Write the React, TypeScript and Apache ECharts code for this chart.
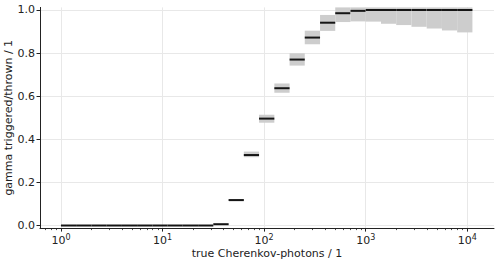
import React, { useEffect, useRef } from "react";
import * as echarts from "echarts";

// bin edges of true Cherenkov-photons
const binEdges = [
  1, 1.41, 2.0, 2.82, 3.98, 5.62, 7.94, 11.2, 15.8, 22.4, 31.6, 44.7, 63.1, 89.1,
  126, 178, 251, 355, 501, 708, 1000, 1413, 1995, 2818, 3981, 5623, 7943, 11220,
];
// ratio triggered/thrown per bin
const ratio = [
  0, 0, 0, 0, 0, 0, 0, 0, 0, 0, 0.006, 0.118, 0.327, 0.496, 0.637, 0.77, 0.872,
  0.941, 0.985, 0.996, 1.0, 1.0, 1.0, 1.0, 1.0, 1.0, 1.0,
];
const ratioLower = [
  0, 0, 0, 0, 0, 0, 0, 0, 0, 0, 0.003, 0.113, 0.317, 0.477, 0.616, 0.742, 0.841,
  0.903, 0.944, 0.947, 0.946, 0.936, 0.93, 0.922, 0.914, 0.905, 0.896,
];
const ratioUpper = [
  0, 0, 0, 0, 0, 0, 0, 0, 0, 0, 0.009, 0.123, 0.343, 0.514, 0.659, 0.799, 0.904,
  0.977, 1.012, 1.012, 1.012, 1.012, 1.012, 1.012, 1.012, 1.012, 1.012,
];

const xMajorTicks = [1, 10, 100, 1000, 10000];
const xMinorTicks = [
  0.7, 0.8, 0.9,
  2, 3, 4, 5, 6, 7, 8, 9,
  20, 30, 40, 50, 60, 70, 80, 90,
  200, 300, 400, 500, 600, 700, 800, 900,
  2000, 3000, 4000, 5000, 6000, 7000, 8000, 9000,
  20000,
];
const yTicks = [0, 0.2, 0.4, 0.6, 0.8, 1.0];

const X_MIN = 0.622;
const X_MAX = 18300;
const Y_MIN = -0.012;
const Y_MAX = 1.012;

export default function App() {
  const ref = useRef<HTMLDivElement>(null);

  useEffect(() => {
    if (!ref.current) return;
    const chart = echarts.init(ref.current, null, { renderer: "svg" });

    const rows = ratio.map((v, i) => [
      binEdges[i],
      binEdges[i + 1],
      v,
      ratioLower[i],
      ratioUpper[i],
    ]);

    const font = "DejaVu Sans";
    const textColor = "#222";
    const axisColor = "#222";

    chart.setOption({
      animation: false,
      backgroundColor: "#fff",
      grid: {
        left: 40,
        right: 10,
        top: 7.4,
        bottom: 30.9,
        containLabel: false,
        outerBoundsMode: "none",
      },
      xAxis: [
        {
          type: "log",
          logBase: 10,
          min: X_MIN,
          max: X_MAX,
          position: "bottom",
          name: "true Cherenkov-photons / 1",
          nameLocation: "middle",
          nameGap: 20,
          nameMoveOverlap: false,
          nameTextStyle: { fontFamily: font, fontSize: 11, color: textColor },
          axisLine: { show: true, onZero: false, lineStyle: { color: axisColor, width: 1 } },
          axisTick: {
            show: true,
            customValues: xMajorTicks,
            length: 3.5,
            lineStyle: { color: axisColor, width: 1 },
          },
          axisLabel: {
            customValues: xMajorTicks,
            margin: 5,
            fontFamily: font,
            fontSize: 11,
            color: textColor,
            lineHeight: 14,
            formatter: (v: number) => `10{sup|${Math.round(Math.log10(v))}}`,
            rich: {
              sup: { fontFamily: font, fontSize: 8, color: textColor, verticalAlign: "top" },
            },
          },
          splitLine: { show: true, lineStyle: { color: "#e8e8e8", width: 1 } },
        },
        {
          type: "log",
          logBase: 10,
          min: X_MIN,
          max: X_MAX,
          position: "bottom",
          axisLine: { show: false, onZero: false },
          axisTick: {
            show: true,
            customValues: xMinorTicks,
            length: 2,
            lineStyle: { color: axisColor, width: 0.8 },
          },
          axisLabel: { show: false },
          splitLine: { show: false },
        },
      ],
      yAxis: {
        type: "value",
        min: Y_MIN,
        max: Y_MAX,
        name: "gamma triggered/thrown / 1",
        nameLocation: "middle",
        nameGap: 26,
        nameMoveOverlap: false,
        nameTextStyle: { fontFamily: font, fontSize: 11, color: textColor },
        axisLine: { show: true, lineStyle: { color: axisColor, width: 1 } },
        axisTick: {
          show: true,
          customValues: yTicks,
          length: 3.5,
          lineStyle: { color: axisColor, width: 1 },
        },
        axisLabel: {
          customValues: yTicks,
          margin: 5,
          fontFamily: font,
          fontSize: 11,
          color: textColor,
          formatter: (v: number) => v.toFixed(1),
        },
        splitLine: { show: true, lineStyle: { color: "#e8e8e8", width: 1 } },
      },
      series: [
        {
          type: "custom",
          xAxisIndex: 0,
          yAxisIndex: 0,
          data: rows,
          encode: { x: [0, 1], y: [2, 3, 4] },
          renderItem: (params: any, api: any) => {
            const x0 = api.value(0);
            const x1 = api.value(1);
            const v = api.value(2);
            const lo = api.value(3);
            const hi = api.value(4);
            const pTop = api.coord([x0, hi]);
            const pBot = api.coord([x1, lo]);
            const a = api.coord([x0, v]);
            const b = api.coord([x1, v]);
            const children: any[] = [];
            if (Math.abs(pBot[1] - pTop[1]) > 0.1) {
              children.push({
                type: "rect",
                shape: {
                  x: pTop[0],
                  y: pTop[1],
                  width: pBot[0] - pTop[0],
                  height: pBot[1] - pTop[1],
                },
                style: { fill: "#cdcdcd" },
              });
            }
            children.push({
              type: "line",
              shape: { x1: a[0], y1: a[1], x2: b[0], y2: b[1] },
              style: { stroke: "#151515", lineWidth: 2 },
            });
            return { type: "group", children };
          },
        },
      ],
    });

    return () => chart.dispose();
  }, []);

  return (
    <div
      ref={ref}
      style={{ position: "fixed", left: 0, top: 0, width: 504, height: 259 }}
    />
  );
}
